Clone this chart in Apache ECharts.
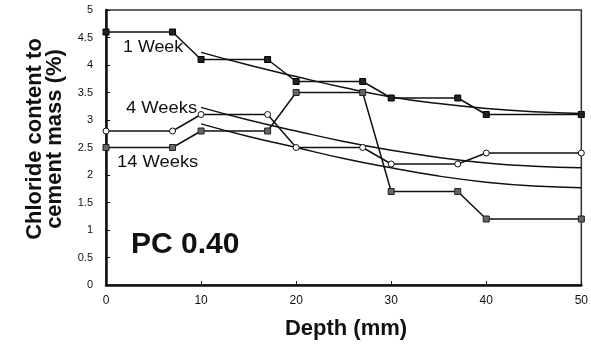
<!DOCTYPE html>
<html>
<head>
<meta charset="utf-8">
<script src="https://cdn.jsdelivr.net/npm/echarts@6/dist/echarts.min.js"></script>
<style>
  html, body { margin: 0; padding: 0; background: #fff; }
  #chart { width: 591px; height: 354px; }
</style>
</head>
<body>
<div id="chart"></div>
<script>
// measured profiles, depth in mm
const depth = [0, 7, 10, 17, 20, 27, 30, 37, 40, 50]
const week1 = [4.6, 4.6, 4.1, 4.1, 3.7, 3.7, 3.4, 3.4, 3.1, 3.1]
const week4 = [2.8, 2.8, 3.1, 3.1, 2.5, 2.5, 2.2, 2.2, 2.4, 2.4]
const week14 = [2.5, 2.5, 2.8, 2.8, 3.5, 3.5, 1.7, 1.7, 1.2, 1.2]

// fitted curves
const fitDepth = [10, 15, 20, 25, 30, 35, 40, 45, 50]
const fit1 = [4.23, 4.0, 3.79, 3.59, 3.42, 3.3, 3.21, 3.15, 3.12]
const fit4 = [3.23, 3.0, 2.8, 2.61, 2.45, 2.32, 2.22, 2.16, 2.13]
const fit14 = [2.93, 2.7, 2.5, 2.3, 2.13, 1.98, 1.87, 1.8, 1.77]

const pairs = (xs, ys) => xs.map((x, i) => [x, ys[i]])

const chart = echarts.init(document.getElementById('chart'))

const FONT = 'Liberation Sans, Arial, sans-serif'
const lineStyle = { color: '#111', width: 1.5 }

// small helper for the free text on the plot
const label = (text, x, y, font, sx, align) => ({
  type: 'text', x, y, scaleX: sx,
  style: { text, fill: '#111', font, align: align || 'left', verticalAlign: 'middle' }
})

const option = {
  animation: false,
  textStyle: { fontFamily: FONT },
  grid: {
    left: 106, right: 8, top: 10, bottom: 69,
    show: true, borderColor: '#333', borderWidth: 1.5
  },
  xAxis: {
    type: 'value',
    min: 0, max: 50, interval: 10,
    axisLine: { lineStyle: { color: '#111', width: 2.5 } },
    axisTick: { inside: true, length: 4, lineStyle: { color: '#111' } },
    axisLabel: { color: '#111', fontSize: 12, margin: 10 },
    splitLine: { show: false }
  },
  yAxis: {
    type: 'value',
    min: 0, max: 5, interval: 0.5,
    axisLine: { show: true, lineStyle: { color: '#111', width: 2.5 } },
    axisTick: { show: true, inside: true, length: 4, lineStyle: { color: '#111' } },
    axisLabel: { color: '#111', fontSize: 11, margin: 13 },
    splitLine: { show: false }
  },
  graphic: [
    {
      type: 'text', x: 35, y: 139, rotation: Math.PI / 2,
      style: {
        text: 'Chloride content to', fill: '#111',
        font: 'bold 22px ' + FONT, align: 'center', verticalAlign: 'middle'
      }
    },
    {
      type: 'text', x: 55, y: 139, rotation: Math.PI / 2,
      style: {
        text: 'cement mass (%)', fill: '#111',
        font: 'bold 22px ' + FONT, align: 'center', verticalAlign: 'middle'
      }
    },
    label('Depth (mm)', 346, 329, 'bold 22px ' + FONT, 1, 'center'),
    label('1 Week', 123, 47, '17px ' + FONT, 1.05),
    label('4 Weeks', 126, 108, '17px ' + FONT, 1.08),
    label('14 Weeks', 117, 162, '17px ' + FONT, 1.08),
    label('PC 0.40', 131, 245, 'bold 30px ' + FONT, 1)
  ],
  series: [
    {
      name: '1 Week fit', type: 'line', smooth: true, showSymbol: false,
      data: pairs(fitDepth, fit1), lineStyle
    },
    {
      name: '4 Weeks fit', type: 'line', smooth: true, showSymbol: false,
      data: pairs(fitDepth, fit4), lineStyle
    },
    {
      name: '14 Weeks fit', type: 'line', smooth: true, showSymbol: false,
      data: pairs(fitDepth, fit14), lineStyle
    },
    {
      name: '1 Week', type: 'line', data: pairs(depth, week1),
      symbol: 'rect', symbolSize: 6,
      itemStyle: { color: '#222', borderColor: '#000', borderWidth: 1 },
      lineStyle
    },
    {
      name: '4 Weeks', type: 'line', data: pairs(depth, week4),
      symbol: 'circle', symbolSize: 6,
      itemStyle: { color: '#fff', borderColor: '#111', borderWidth: 1 },
      lineStyle
    },
    {
      name: '14 Weeks', type: 'line', data: pairs(depth, week14),
      symbol: 'rect', symbolSize: 6,
      itemStyle: { color: '#666', borderColor: '#222', borderWidth: 1 },
      lineStyle
    }
  ]
}

chart.setOption(option)
</script>
</body>
</html>
